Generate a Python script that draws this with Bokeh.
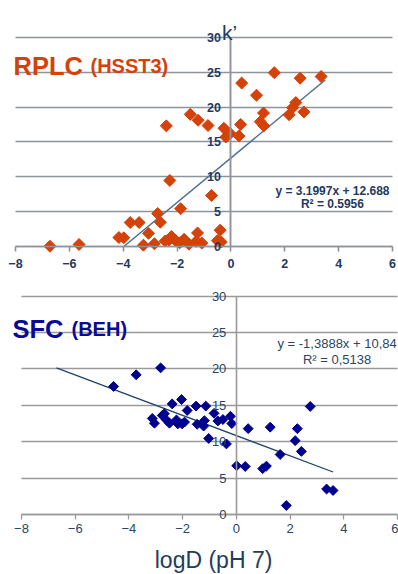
from bokeh.plotting import figure
from bokeh.models import Range1d, FixedTicker, Label
from bokeh.layouts import column
from bokeh.embed import file_html
from bokeh.resources import INLINE
import numpy as np

# ---------------- data ----------------
rplc_x = [-6.72, -5.64, -4.16, -3.98, -3.74, -3.41, -3.06, -2.72, -2.62, -2.27,
          -1.87, -3.25, -2.84, -2.44, -2.21, -2.05, -1.74, -1.56, -1.24, -1.29,
          -1.08, -0.72, -0.40, -0.50, -0.36, -1.90, -2.30,
          -2.40, -1.51, -1.22, -0.85, -0.26, -0.19, -0.03, 0.30, 0.36, 0.40,
          0.95, 1.21, 1.09, 1.22, 1.61, 2.16, 2.29, 2.41, 2.71, 2.57, 3.35]
rplc_y = [0.0, 0.25, 1.25, 1.2, 3.4, 3.4, 1.85, 4.7, 3.45, 9.45,
          5.4, 0.15, 0.35, 0.75, 1.4, 0.8, 1.0, 0.3, 1.9, 0.7,
          0.45, 7.3, 2.3, 0.8, 0.6, 0.5, 0.9,
          17.3, 18.95, 18.1, 17.35, 16.95, 15.7, 16.2, 15.85, 17.5, 23.45,
          21.7, 19.15, 17.9, 17.3, 24.95, 18.9, 19.9, 20.65, 19.3, 24.15, 24.4]
rplc_slope, rplc_icept = 3.1997, 12.688
rplc_trend_x = [-6.72, 3.5]

sfc_x = [-4.57, -3.73, -2.82, -2.39, -2.04, -1.83, -1.50, -1.14, -0.83, -0.22,
         -0.69, -0.50, -0.17, 0.44, -1.03, -0.37, -3.13, -3.05, -2.76, -2.68,
         -2.58, -2.49, -2.23, -2.18, -2.02, -1.93, -1.46, -1.19, -1.22, 2.75,
         1.26, 2.27, 2.19, 2.42, 1.63, 0.01, 0.33, 0.98, 1.12, 3.36, 3.60, 1.86]
sfc_y = [17.6, 19.2, 20.15, 15.2, 15.8, 14.3, 14.9, 14.9, 13.9, 13.5,
         12.85, 13.05, 12.5, 11.8, 10.45, 9.7, 13.2, 12.55, 13.6, 13.85,
         12.9, 12.55, 13.0, 12.45, 12.45, 12.7, 12.4, 12.9, 12.15, 14.85,
         12.0, 11.8, 10.15, 8.67, 8.25, 6.7, 6.6, 6.3, 6.65, 3.5, 3.3, 1.24]
sfc_slope, sfc_icept = -1.3888, 10.84
sfc_trend_x = [-6.7, 3.6]

x_ticks = [-8, -6, -4, -2, 0, 2, 4, 6]
y_ticks = [0, 5, 10, 15, 20, 25, 30]

FONT = "Liberation Sans"
GRID = "#8e939b"
NAVY = "#1f3a60"


def style_axes(p, xa, ya, line_color, line_w, font_size, style, color, x_standoff, y_standoff):
    xa.fixed_location = 0
    xa.bounds = (-8, 6)
    xa.ticker = FixedTicker(ticks=x_ticks)
    xa.axis_line_color = line_color
    xa.axis_line_width = line_w
    xa.major_tick_line_color = line_color
    xa.major_tick_line_width = line_w
    xa.major_tick_out = 5
    xa.major_tick_in = 0
    xa.minor_tick_line_color = None
    xa.major_label_text_font = FONT
    xa.major_label_text_font_style = style
    xa.major_label_text_font_size = font_size
    xa.major_label_text_color = color
    xa.major_label_standoff = x_standoff

    ya.fixed_location = 0
    ya.bounds = (0, 30)
    ya.ticker = FixedTicker(ticks=y_ticks)
    ya.axis_line_color = line_color
    ya.axis_line_width = line_w + 0.3
    ya.major_tick_line_color = None
    ya.major_tick_out = 0
    ya.major_tick_in = 0
    ya.minor_tick_line_color = None
    ya.major_label_text_font = FONT
    ya.major_label_text_font_style = style
    ya.major_label_text_font_size = font_size
    ya.major_label_text_color = color
    ya.major_label_standoff = y_standoff

    p.outline_line_color = None
    p.xgrid.grid_line_color = None
    p.ygrid.ticker = FixedTicker(ticks=y_ticks)
    p.ygrid.cross_bounds = (-8, 6)
    p.ygrid.grid_line_color = line_color
    p.ygrid.grid_line_width = line_w


# ---------------- top: RPLC ----------------
top = figure(width=398, height=283, output_backend="svg", toolbar_location=None,
             x_range=Range1d(-8.557, 6.223), y_range=Range1d(-5.36, 35.32),
             min_border=0)
style_axes(top, top.xaxis[0], top.yaxis[0], GRID, 1.6, "12.5px", "bold", NAVY, 8, 10)

t0 = max(rplc_trend_x[0], -rplc_icept / rplc_slope)
tx = np.array([t0, rplc_trend_x[1]])
top.line(tx, rplc_slope * tx + rplc_icept, line_color="#4d6f91", line_width=1.5)
top.scatter(rplc_x, rplc_y, marker="square", angle=np.pi / 4, size=8.5,
            fill_color="#d4420a", line_color="#d4420a")

top.add_layout(Label(x=-8, y=25.97, x_offset=-2, text="RPLC", text_font=FONT,
                     text_font_style="bold", text_font_size="25.5px",
                     text_color="#d4420a", text_baseline="alphabetic"))
top.add_layout(Label(x=-8, y=25.97, x_offset=75, text="(HSST3)", text_font=FONT,
                     text_font_style="bold", text_font_size="20px",
                     text_color="#d4420a", text_baseline="alphabetic"))
top.add_layout(Label(x=0, y=30, x_offset=-9, y_offset=5, text="k\u2019", text_font=FONT,
                     text_font_size="21px", text_color="#1f3d5c", text_baseline="alphabetic"))
top.add_layout(Label(x=3.77, y=8.0, text="y = 3.1997x + 12.688", text_font=FONT,
                     text_font_style="bold", text_font_size="12px", text_color=NAVY,
                     text_align="center", text_baseline="middle"))
top.add_layout(Label(x=3.77, y=6.0, text="R\u00b2 = 0.5956", text_font=FONT,
                     text_font_style="bold", text_font_size="12px", text_color=NAVY,
                     text_align="center", text_baseline="middle"))

# ---------------- bottom: SFC ----------------
NAVY2 = "#2a4666"
bot = figure(width=398, height=291, output_backend="svg", toolbar_location=None,
             x_range=Range1d(-8.782, 6.037), y_range=Range1d(-8.245, 31.745),
             min_border=0)
style_axes(bot, bot.xaxis[0], bot.yaxis[0], "#9a9a9a", 1.3, "13px", "normal", NAVY2, 4, 10)

sx = np.array(sfc_trend_x)
bot.line(sx, sfc_slope * sx + sfc_icept, line_color="#1e4466", line_width=1.2)
bot.scatter(sfc_x, sfc_y, marker="square", angle=np.pi / 4, size=7,
            fill_color="#00008f", line_color="#00008f")

bot.add_layout(Label(x=-8, y=25.56, x_offset=-9, text="SFC", text_font=FONT,
                     text_font_style="bold", text_font_size="25.5px",
                     text_color="#0a0a96", text_baseline="alphabetic"))
bot.add_layout(Label(x=-8, y=25.56, x_offset=50, text="(BEH)", text_font=FONT,
                     text_font_style="bold", text_font_size="20px",
                     text_color="#0a0a96", text_baseline="alphabetic"))
bot.add_layout(Label(x=3.75, y=23.56, text="y = -1,3888x + 10,84", text_font=FONT,
                     text_font_size="13px", text_color=NAVY2,
                     text_align="center", text_baseline="middle"))
bot.add_layout(Label(x=3.75, y=21.3, text="R\u00b2 = 0,5138", text_font=FONT,
                     text_font_size="13px", text_color=NAVY2,
                     text_align="center", text_baseline="middle"))
bot.add_layout(Label(x=-0.85, y=-6.32, text="logD (pH 7)", text_font=FONT,
                     text_font_size="23px", text_color="#1f3d5c",
                     text_align="center", text_baseline="middle"))

layout = column(top, bot, spacing=0)
open("out.html", "w").write(file_html(layout, INLINE))
